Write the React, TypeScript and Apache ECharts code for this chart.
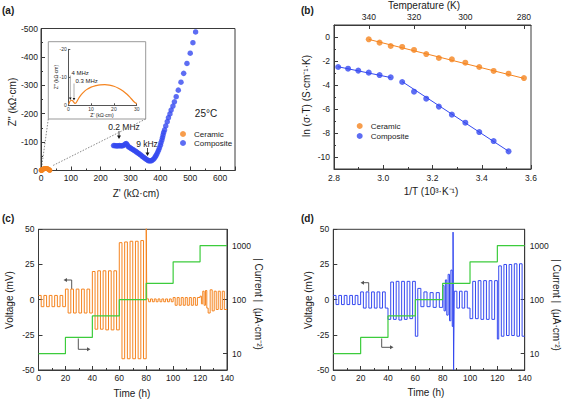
import { useEffect, useRef } from "react";
import * as echarts from "echarts";

const ORANGE = "#F5841F";
const BLUE = "#3549F0";
const GREEN = "#3CCC3C";
const AXIS = "#3a3a3a";
const TXT = "#1a1a1a";
const FONT = "Liberation Sans, Arial, sans-serif";

// ---------- (a) Nyquist ----------
const compositeZ: [number, number][] = [
  [243, -88], [247, -88], [251, -87], [255, -87], [259, -87], [263, -88], [267, -87], [271, -87],
  [275, -88], [279, -90], [283, -94], [286, -95], [289, -90], [292, -85], [295, -82], [299, -80],
  [303, -77], [307, -74], [311, -72], [315, -69], [319, -66], [323, -63], [327, -60], [331, -57],
  [335, -54], [339, -50], [343, -47], [347, -44], [351, -41], [355, -38], [359, -35], [363, -34],
  [367, -34], [371, -35], [375, -38], [379, -42], [382, -47], [385, -52], [388, -58], [391, -65],
  [394, -72], [397, -80], [400, -89], [402, -98], [405, -107], [407, -116], [409, -125], [411, -134],
  [414, -143], [418, -157], [423, -172], [427, -186], [432, -199], [436, -213], [442, -227],
  [447, -242], [453, -260], [460, -283], [469, -311], [478, -342], [489, -377], [500, -413],
  [509, -450], [518, -488],
];
const ceramicZ: [number, number][] = [
  [0.2, -0.3], [0.5, -1.1], [0.9, -1.6], [1.4, -1.8], [1.9, -1.6], [2.4, -1.1], [2.9, -0.7],
  [3.4, -0.9], [4.2, -2.0], [5.2, -3.3], [6.5, -4.5], [8, -5.6], [10, -6.5], [12, -7.0],
  [14, -7.3], [16, -7.35], [18, -7.2], [20, -6.8], [22, -6.1], [24, -5.1], [25.5, -4.1],
  [27, -2.9], [28.2, -1.8], [29.2, -1.0], [30, -0.6],
];

// ---------- (b) Arrhenius ----------
const ceramicT = [340, 335, 330, 325, 320, 315, 310, 305, 300, 295, 290, 285, 280];
const ceramicLn = [-0.19, -0.47, -0.75, -0.83, -1.08, -1.42, -1.75, -1.86, -2.14, -2.5, -2.83, -3.06, -3.42];
const compositeT = [355, 350, 345, 340, 335, 330, 325, 320, 315, 310, 305, 300, 295, 290, 285];
const compositeLn = [-2.5, -2.64, -2.8, -2.97, -3.17, -3.36, -3.75, -4.56, -5.14, -5.8, -6.47, -7.14, -7.92, -8.67, -9.53];
const ceramicFitT = [340, 280];
const ceramicFitLn = [-0.2, -3.45];
const compFit1T = [355, 330];
const compFit1Ln = [-2.48, -3.38];
const compFit2T = [325, 285];
const compFit2Ln = [-3.72, -9.52];
const tempTicks = [340, 320, 300, 280];

// ---------- (c)/(d) cycling ----------
const stepTimes = [0, 20, 40, 60, 80, 100, 120, 140];
const currentLevels = [10, 20, 50, 100, 200, 500, 1000];

type Run = { t0: number; dt: number; v: number[] };
const cRuns: Run[] = [
  { t0: 0, dt: 2, v: [3, -5, 3, -5, 3, -5, 3, -5, 3, -5] },
  { t0: 20, dt: 2, v: [7.5, -9.5, 7.5, -9.5, 7.5, -9.5, 7.5, -9.5, 7.5, -9.5] },
  { t0: 40, dt: 2, v: [20, -21, 20.5, -21, 20.5, -21.5, 20.5, -21.5, 20.5, -21.5] },
  { t0: 60, dt: 2, v: [40.5, -42, 41, -42, 41.5, -42, 41.5, -42, 42, -42] },
  { t0: 80, dt: 0.4, v: [60] },
  { t0: 80.4, dt: 1.4, v: [0.5, -1.5, 0.5, -1.5, 0.5, -1.5, 0.5, -1.5, 0.5, -1.5, 0.5, -1.5, 0.5, -1.5] },
  { t0: 100, dt: 1.5, v: [1.5, -4, 1.5, -4, 1.5, -4, 1.5, -4, 1.5, -4, 1.5, -4, 1.5] },
  { t0: 120, dt: 1, v: [2.5, -3, 6, -4, 6.5, -6] },
  { t0: 126, dt: 1.5, v: [-9.5] },
  { t0: 127.5, dt: 1.5, v: [7, -8, 6, -7, 6, -7, 6, -7] },
];
const dRuns: Run[] = [
  { t0: 0, dt: 2, v: [3, -3.5, 3, -3.5, 3, -3.5, 3, -3.5, 3, -3.5] },
  { t0: 20, dt: 2, v: [5.5, -6, 5.5, -6, 5.5, -6, 5.5, -6, 5.5, -6] },
  { t0: 40, dt: 2, v: [-14, 12.5, -14, 13, -14.5, 13, -14, 13, -13.5, 13] },
  { t0: 60, dt: 1.8, v: [-26] },
  { t0: 61.8, dt: 2.25, v: [8, -5, 5.5, -5, 5, -5.5, 5, -5.5] },
  { t0: 80, dt: 1, v: [10, -8, 14, -11, 18, -15, 21, -19] },
  { t0: 87.6, dt: 0.4, v: [48, -50] },
  { t0: 88.5, dt: 1.9, v: [6, -6, 6, -6, 6, -6] },
  { t0: 100, dt: 2, v: [-13.5, 13, -13.5, 13.5, -14, 13.5, -14, 13.5, -14, 13.5] },
  { t0: 120, dt: 1, v: [-28] },
  { t0: 121, dt: 1.9, v: [24, -26, 25, -25.5, 25, -25.5, 25.5, -26, 25.5, -26] },
];

function buildSteps(runs: Run[], tEnd: number): [number, number][] {
  const pts: [number, number][] = [];
  runs.forEach((r) => r.v.forEach((v, i) => pts.push([r.t0 + i * r.dt, v])));
  pts.push([tEnd, pts[pts.length - 1][1]]);
  return pts;
}
function currentSteps(): [number, number][] {
  const pts: [number, number][] = currentLevels.map((c, i) => [stepTimes[i], c]);
  pts.push([stepTimes[stepTimes.length - 1], currentLevels[currentLevels.length - 1]]);
  return pts;
}
const inv = (T: number[], y: number[]) => T.map((t, i) => [1000 / t, y[i]]);

function ax(o: any) {
  return {
    ...o,
    axisLine: { show: true, onZero: false, lineStyle: { color: AXIS, width: 1 }, ...(o.axisLine || {}) },
    axisTick: { show: true, inside: true, length: 4, lineStyle: { color: AXIS, width: 1 }, ...(o.axisTick || {}) },
    minorTick: o.minorTick || { show: false },
    axisLabel: { color: TXT, fontSize: 8.5, fontFamily: FONT, ...(o.axisLabel || {}) },
    splitLine: { show: false },
    minorSplitLine: { show: false },
  };
}
const minor = { show: true, splitNumber: 2, length: 2, lineStyle: { color: AXIS, width: 1 } };

function txt(text: string, x: number, y: number, o: any = {}) {
  const { rotation, ...style } = o;
  return {
    type: "text",
    x,
    y,
    rotation: rotation || 0,
    silent: true,
    style: {
      text,
      x: 0,
      y: 0,
      align: "center",
      verticalAlign: "middle",
      fontSize: 10,
      fontFamily: FONT,
      fill: TXT,
      ...style,
    },
  };
}
function arrowLine(points: number[][], color = "#555") {
  return { type: "polyline", silent: true, shape: { points }, style: { stroke: color, fill: "none", lineWidth: 1 } };
}
function tri(points: number[][], color = "#555") {
  return { type: "polygon", silent: true, shape: { points }, style: { fill: color, stroke: "none" } };
}

export default function App() {
  const ref = useRef<HTMLDivElement>(null);
  useEffect(() => {
    if (!ref.current) return;
    const chart = echarts.init(ref.current, undefined, { renderer: "svg" });
    const legendBase = {
      data: ["Ceramic", "Composite"],
      orient: "vertical",
      icon: "circle",
      itemWidth: 12,
      itemHeight: 6,
      padding: 0,
      selectedMode: false,
      textStyle: { fontSize: 8, fontFamily: FONT, color: TXT },
    };
    const option: any = {
      animation: false,
      backgroundColor: "#fff",
      textStyle: { fontFamily: FONT },
      legend: [
        { ...legendBase, left: 180, top: 130, itemGap: 1 },
        { ...legendBase, left: 356.7, top: 122, itemGap: 2 },
      ],
      grid: [
        { left: 41, top: 28.5, width: 194, height: 142, show: true, borderColor: AXIS, borderWidth: 1 },
        { left: 68.3, top: 49.3, width: 68.4, height: 56 },
        { left: 334, top: 25, width: 197, height: 144, show: true, borderColor: AXIS, borderWidth: 1 },
        { left: 38.5, top: 229.3, width: 188.5, height: 140.7, show: true, borderColor: AXIS, borderWidth: 1 },
        { left: 333.3, top: 229.3, width: 191.4, height: 140.7, show: true, borderColor: AXIS, borderWidth: 1 },
      ],
      xAxis: [
        ax({ type: "value", gridIndex: 0, min: 0, max: 650, interval: 100, minorTick: minor,
          axisLabel: { showMaxLabel: false, margin: 3 } }),
        ax({ type: "value", gridIndex: 1, min: 0, max: 30, interval: 10,
          axisLine: { lineStyle: { color: "#555", width: 1 } },
          axisTick: { length: 2, lineStyle: { color: "#555" } },
          axisLabel: { fontSize: 5, margin: 1, color: "#333" } }),
        ax({ type: "value", gridIndex: 2, min: 2.8, max: 3.6, interval: 0.2, minorTick: minor,
          axisLabel: { margin: 4, formatter: (v: number) => v.toFixed(1) } }),
        ax({ type: "value", gridIndex: 2, position: "top", min: 2.8, max: 3.6,
          axisTick: { customValues: tempTicks.map((t) => 1000 / t) },
          axisLabel: { margin: 4, customValues: tempTicks.map((t) => 1000 / t),
            formatter: (v: number) => String(Math.round(1000 / v)) } }),
        ax({ type: "value", gridIndex: 3, min: 0, max: 140, interval: 20, minorTick: minor,
          axisLabel: { margin: 3 } }),
        ax({ type: "value", gridIndex: 4, min: 0, max: 140, interval: 20, minorTick: minor,
          axisLabel: { margin: 3 } }),
      ],
      yAxis: [
        ax({ type: "value", gridIndex: 0, inverse: true, min: -500, max: 0, interval: 100, minorTick: minor,
          axisLabel: { margin: 3 } }),
        ax({ type: "value", gridIndex: 1, inverse: true, min: -20, max: 0, interval: 10,
          axisLine: { lineStyle: { color: "#555", width: 1 } },
          axisTick: { length: 2, lineStyle: { color: "#555" } },
          axisLabel: { fontSize: 5, margin: 1.5, color: "#333" } }),
        ax({ type: "value", gridIndex: 2, min: -11, max: 1,
          axisTick: { customValues: [-10, -8, -6, -4, -2, 0] },
          axisLabel: { margin: 4, customValues: [-10, -8, -6, -4, -2, 0] } }),
        ax({ type: "value", gridIndex: 2, position: "left", offset: 0, min: -11, max: 1,
          axisLine: { show: false },
          axisTick: { length: 2, customValues: [-11, -9, -7, -5, -3, -1, 1] },
          axisLabel: { show: false } }),
        ax({ type: "value", gridIndex: 3, position: "left", min: -50, max: 50, interval: 25,
          axisLabel: { margin: 4 } }),
        ax({ type: "log", gridIndex: 3, position: "right", min: 5, max: 2000, logBase: 10,
          axisLabel: { margin: 5, showMinLabel: false, showMaxLabel: false,
            formatter: (v: number) => String(Math.round(v)) } }),
        ax({ type: "value", gridIndex: 4, position: "left", min: -50, max: 50, interval: 25,
          axisLabel: { margin: 4 } }),
        ax({ type: "log", gridIndex: 4, position: "right", min: 5, max: 2000, logBase: 10,
          axisLabel: { margin: 5, showMinLabel: false, showMaxLabel: false,
            formatter: (v: number) => String(Math.round(v)) } }),
      ],
      series: [
        { name: "Ceramic", type: "scatter", xAxisIndex: 0, yAxisIndex: 0, data: ceramicZ,
          symbolSize: 5, itemStyle: { color: ORANGE } },
        { name: "Composite", type: "scatter", xAxisIndex: 0, yAxisIndex: 0, data: compositeZ,
          symbolSize: 5.5, itemStyle: { color: BLUE } },
        { name: "inset", type: "line", xAxisIndex: 1, yAxisIndex: 1, data: ceramicZ, smooth: 0.4,
          showSymbol: false, lineStyle: { color: ORANGE, width: 1.2 } },
        { name: "Ceramic", type: "scatter", xAxisIndex: 2, yAxisIndex: 2, data: inv(ceramicT, ceramicLn),
          symbolSize: 6, itemStyle: { color: ORANGE }, z: 3 },
        { name: "ceramicFit", type: "line", xAxisIndex: 2, yAxisIndex: 2, data: inv(ceramicFitT, ceramicFitLn),
          showSymbol: false, lineStyle: { color: ORANGE, width: 1 } },
        { name: "Composite", type: "scatter", xAxisIndex: 2, yAxisIndex: 2, data: inv(compositeT, compositeLn),
          symbolSize: 6, itemStyle: { color: BLUE }, z: 3 },
        { name: "compFit1", type: "line", xAxisIndex: 2, yAxisIndex: 2, data: inv(compFit1T, compFit1Ln),
          showSymbol: false, lineStyle: { color: BLUE, width: 1 } },
        { name: "compFit2", type: "line", xAxisIndex: 2, yAxisIndex: 2, data: inv(compFit2T, compFit2Ln),
          showSymbol: false, lineStyle: { color: BLUE, width: 1 } },
        { name: "cVoltage", type: "line", xAxisIndex: 4, yAxisIndex: 4, data: buildSteps(cRuns, 140), step: "end",
          showSymbol: false, lineStyle: { color: ORANGE, width: 1 } },
        { name: "cCurrent", type: "line", xAxisIndex: 4, yAxisIndex: 5, data: currentSteps(), step: "end",
          showSymbol: false, lineStyle: { color: GREEN, width: 1.2 }, z: 3 },
        { name: "dVoltage", type: "line", xAxisIndex: 5, yAxisIndex: 6, data: buildSteps(dRuns, 140), step: "end",
          showSymbol: false, lineStyle: { color: BLUE, width: 1 } },
        { name: "dCurrent", type: "line", xAxisIndex: 5, yAxisIndex: 7, data: currentSteps(), step: "end",
          showSymbol: false, lineStyle: { color: GREEN, width: 1.2 }, z: 3 },
      ],
      graphic: [
        // panel letters
        txt("(a)", 2, 10, { align: "left", fontWeight: "bold" }),
        txt("(b)", 301, 10, { align: "left", fontWeight: "bold" }),
        txt("(c)", 2, 218, { align: "left", fontWeight: "bold" }),
        txt("(d)", 301, 218, { align: "left", fontWeight: "bold" }),
        // (a)
        txt("Z'' (kΩ·cm)", 12, 102, { rotation: Math.PI / 2 }),
        txt("Z' (kΩ·cm)", 136, 193),
        txt("25°C", 206, 113),
        txt("0.2 MHz", 124, 127, { fontSize: 8.5 }),
        txt("9 kHz", 147, 144, { fontSize: 8.5 }),
        { type: "line", silent: true, shape: { x1: 119, y1: 131, x2: 119, y2: 136 }, style: { stroke: "#444", lineWidth: 1 } },
        tri([[117, 135.5], [121, 135.5], [119, 139]], "#111"),
        { type: "line", silent: true, shape: { x1: 147.5, y1: 148, x2: 147.5, y2: 153 }, style: { stroke: "#444", lineWidth: 1 } },
        tri([[145.5, 152.5], [149.5, 152.5], [147.5, 156]], "#111"),
        { type: "rect", silent: true, shape: { x: 48.3, y: 41.7, width: 97.4, height: 77.3 },
          style: { stroke: "#999", fill: "none", lineWidth: 1 } },
        { type: "line", silent: true, shape: { x1: 48.3, y1: 119, x2: 41.5, y2: 168 },
          style: { stroke: "#888", lineWidth: 1, lineDash: [1.5, 1.5] } },
        { type: "line", silent: true, shape: { x1: 145.7, y1: 119, x2: 52, y2: 166 },
          style: { stroke: "#888", lineWidth: 1, lineDash: [1.5, 1.5] } },
        txt("Z'' (kΩ·cm)", 56, 77, { rotation: Math.PI / 2, fontSize: 5 }),
        txt("Z' (kΩ·cm)", 102, 115.3, { fontSize: 5 }),
        txt("4 MHz", 71.5, 72.5, { align: "left", fontSize: 6 }),
        txt("0.3 MHz", 75.5, 80.5, { align: "left", fontSize: 6 }),
        { type: "line", silent: true, shape: { x1: 70.3, y1: 75.5, x2: 70.3, y2: 98 }, style: { stroke: "#999", lineWidth: 0.8 } },
        tri([[69, 97.5], [71.6, 97.5], [70.3, 100]], "#111"),
        { type: "line", silent: true, shape: { x1: 74, y1: 83.5, x2: 74, y2: 98.5 }, style: { stroke: "#999", lineWidth: 0.8 } },
        tri([[72.7, 98], [75.3, 98], [74, 100.5]], "#111"),
        // (b)
        txt("Temperature (K)", 424, 5.5),
        txt("1/T (10³·K⁻¹)", 431, 191),
        txt("ln (σ·T) (S·cm⁻¹·K)", 306, 96, { rotation: Math.PI / 2 }),
        // (c)
        txt("Voltage (mV)", 9, 300, { rotation: Math.PI / 2 }),
        txt("| Current |  (μA·cm⁻²)", 258, 304, { rotation: -Math.PI / 2 }),
        txt("Time (h)", 132, 393),
        arrowLine([[71.7, 289], [71.7, 280], [67, 280]]),
        tri([[67, 278], [67, 282], [63.5, 280]]),
        arrowLine([[78.3, 338.5], [78.3, 349.3], [87, 349.3]]),
        tri([[87, 347.3], [87, 351.3], [90.5, 349.3]]),
        // (d)
        txt("Voltage (mV)", 308, 300, { rotation: Math.PI / 2 }),
        txt("| Current |  (μA·cm⁻²)", 556, 305, { rotation: -Math.PI / 2 }),
        txt("Time (h)", 426, 392.5),
        arrowLine([[368.7, 291.5], [368.7, 282.7], [364, 282.7]]),
        tri([[364, 280.7], [364, 284.7], [360.5, 282.7]]),
        arrowLine([[381.7, 338.5], [381.7, 347.3], [390, 347.3]]),
        tri([[390, 345.3], [390, 349.3], [393.5, 347.3]]),
      ],
    };
    chart.setOption(option);
    return () => chart.dispose();
  }, []);
  return (
    <div
      ref={ref}
      style={{ position: "absolute", left: 0, top: 0, width: 567, height: 400, background: "#fff" }}
    />
  );
}
